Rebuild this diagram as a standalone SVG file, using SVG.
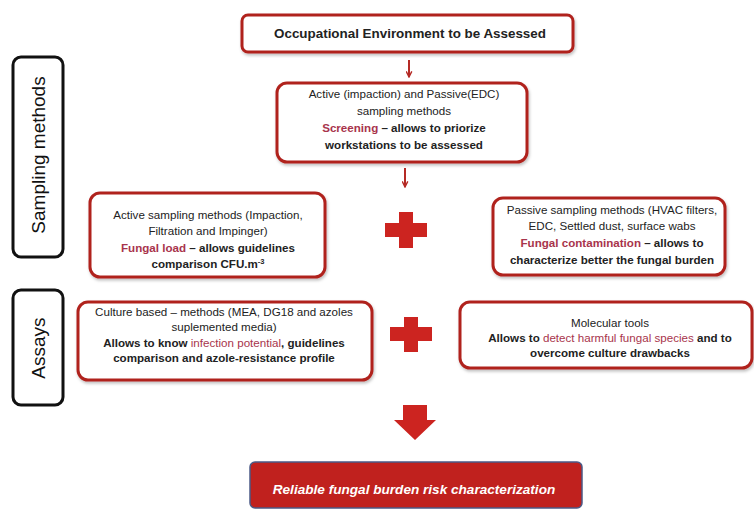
<svg xmlns="http://www.w3.org/2000/svg" width="754" height="510" viewBox="0 0 754 510">
<defs>
<marker id="vh" viewBox="0 0 10 10" refX="9" refY="5" markerWidth="7" markerHeight="7" orient="auto" markerUnits="userSpaceOnUse">
<path d="M1,1 L9,5 L1,9" fill="none" stroke="#b52a25" stroke-width="2"/>
</marker>
<filter id="sh" x="-5%" y="-10%" width="110%" height="125%">
<feDropShadow dx="1" dy="2" stdDeviation="1.5" flood-color="#000" flood-opacity="0.25"/>
</filter>
</defs>
<style>
.box{fill:#fff;stroke:#b0221f;stroke-width:3;filter:url(#sh)}
.tab{fill:#fff;stroke:#111;stroke-width:3}
.t{font-family:"Liberation Sans",Arial,sans-serif;font-size:11.6px;fill:#222;text-anchor:middle}
.b{font-weight:bold}
.hl{fill:#a8344c}
.plus{fill:#cc2420}
.ttl{font-family:"Liberation Sans",Arial,sans-serif;font-size:19px;fill:#111;text-anchor:middle}
.ln{stroke:#b52a25;stroke-width:2;fill:none}
</style>
<rect width="754" height="510" fill="#fff"/>

<g id="tab-sampling">
<rect class="tab" x="13" y="57" width="50" height="200" rx="8"/>
<text class="ttl" transform="translate(45,155) rotate(-90)">Sampling methods</text>
</g>
<g id="tab-assays">
<rect class="tab" x="13" y="290" width="50" height="115" rx="8"/>
<text class="ttl" transform="translate(45,348) rotate(-90)">Assays</text>
</g>

<g id="n-occupational">
<rect class="box" x="242" y="15" width="331" height="37" rx="6"/>
<text class="t b" x="410" y="38" style="font-size:13.4px">Occupational Environment to be Assessed</text>
</g>

<g id="n-screening">
<rect class="box" x="277" y="83" width="250" height="79" rx="10"/>
<text class="t" x="404" y="98">Active (impaction) and Passive(EDC)</text>
<text class="t" x="404" y="115">sampling methods</text>
<text class="t b" x="404" y="132"><tspan class="hl">Screening</tspan> – allows to priorize</text>
<text class="t b" x="404" y="149">workstations to be assessed</text>
</g>

<g id="n-active">
<rect class="box" x="90" y="193" width="235" height="84" rx="10"/>
<text class="t" x="208" y="219">Active sampling methods (Impaction,</text>
<text class="t" x="208" y="235">Filtration and Impinger)</text>
<text class="t b" x="208" y="252"><tspan class="hl">Fungal load</tspan> – allows guidelines</text>
<text class="t b" x="208" y="268">comparison CFU.m<tspan dy="-4" style="font-size:7.5px">-3</tspan></text>
</g>

<g id="n-passive">
<rect class="box" x="493" y="198" width="232" height="77" rx="10"/>
<text class="t" x="612" y="214">Passive sampling methods (HVAC filters,</text>
<text class="t" x="612" y="230">EDC, Settled dust, surface wabs</text>
<text class="t b" x="612" y="247"><tspan class="hl">Fungal contamination</tspan> – allows to</text>
<text class="t b" x="612" y="264">characterize better the fungal burden</text>
</g>

<g id="n-culture">
<rect class="box" x="78" y="302" width="294" height="78" rx="10"/>
<text class="t" x="224" y="316">Culture based – methods (MEA, DG18 and azoles</text>
<text class="t" x="224" y="331">suplemented media)</text>
<text class="t b" x="224" y="347">Allows to know <tspan class="hl" style="font-weight:normal">infection potential</tspan>, guidelines</text>
<text class="t b" x="224" y="362">comparison and azole-resistance profile</text>
</g>

<g id="n-molecular">
<rect class="box" x="460" y="302" width="292" height="66" rx="10"/>
<text class="t" x="610" y="327">Molecular tools</text>
<text class="t b" x="610" y="342">Allows to <tspan class="hl" style="font-weight:normal">detect harmful fungal species</tspan> and to</text>
<text class="t b" x="610" y="357">overcome culture drawbacks</text>
</g>

<g id="n-result">
<rect x="250" y="462" width="332" height="46" rx="5" fill="#c0211e" stroke="#4b5a86" stroke-width="1.5"/>
<text x="414" y="494" style="font-family:'Liberation Sans',Arial,sans-serif;font-size:13.6px;font-weight:bold;font-style:italic;fill:#fff;text-anchor:middle">Reliable fungal burden risk characterization</text>
</g>

<g id="plus-1" class="plus">
<rect x="385" y="223" width="42" height="14"/>
<rect x="399" y="212" width="14" height="36"/>
</g>
<g id="plus-2" class="plus">
<rect x="390" y="327" width="42" height="14"/>
<rect x="404" y="317" width="14" height="35"/>
</g>

<g id="connectors">
<line class="ln" x1="409" y1="60" x2="409" y2="77" marker-end="url(#vh)"/>
<line class="ln" x1="405" y1="168" x2="405" y2="187" marker-end="url(#vh)"/>
<path d="M403,405 L427,405 L427,420 L436,420 L415,440 L394,420 L403,420 Z" fill="#cc2420"/>
</g>
</svg>
